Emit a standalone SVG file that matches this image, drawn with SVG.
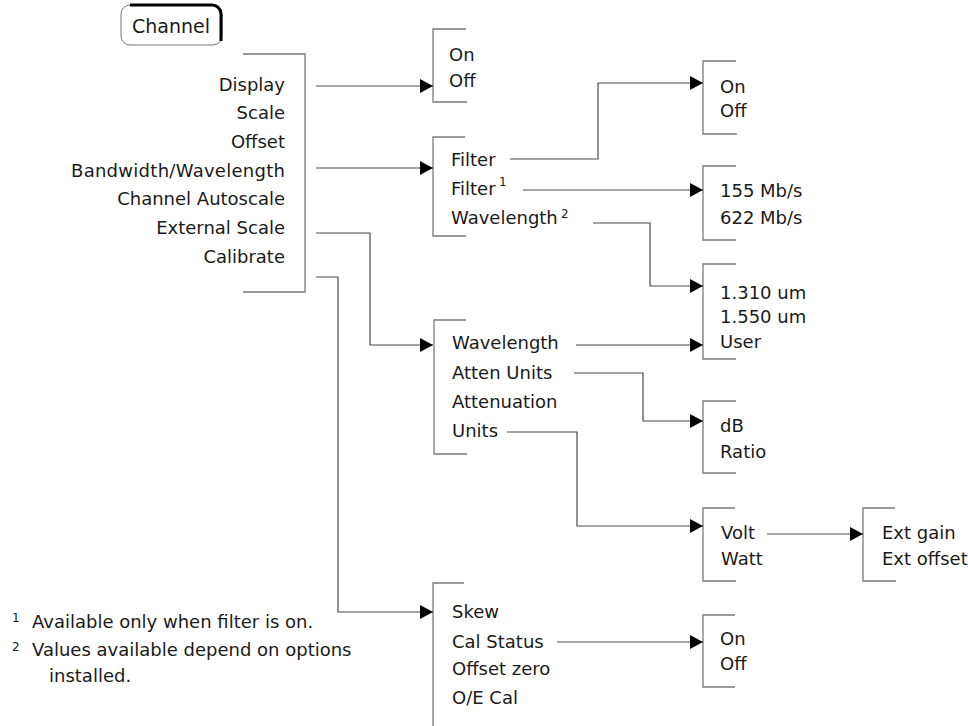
<svg xmlns="http://www.w3.org/2000/svg" width="968" height="726" viewBox="0 0 968 726">
<style>
  text { font-family: "DejaVu Sans", "Liberation Sans", sans-serif; font-size: 18px; fill: #1a1a1a; }
  .end { text-anchor: end; }
  .sup { font-size: 12px; }
  .br { fill: none; stroke: #7a7a7a; stroke-width: 1.3; }
  .cn { fill: none; stroke: #4a4a4a; stroke-width: 1.2; marker-end: url(#arr); }
</style>
<defs>
  <marker id="arr" markerUnits="userSpaceOnUse" markerWidth="15" markerHeight="15" refX="13" refY="7" orient="auto">
    <path d="M0,0 L13,7 L0,14 Z" fill="#000"/>
  </marker>
</defs>
<rect width="968" height="726" fill="#fff"/>

<g id="channel-key">
  <rect x="121" y="5" width="101" height="40" rx="9" fill="#fff" stroke="#777" stroke-width="1"/>
  <path d="M130,5 H212 A9,9 0 0 1 221,14 V41" fill="none" stroke="#000" stroke-width="3"/>
  <text x="171" y="33" style="text-anchor:middle;font-size:19px">Channel</text>
</g>

<g id="main-menu">
  <path class="br" d="M243,54 H305 V292 H243"/>
  <text class="end" x="285" y="91">Display</text>
  <text class="end" x="285" y="119">Scale</text>
  <text class="end" x="285" y="148">Offset</text>
  <text class="end" x="285" y="177" textLength="214">Bandwidth/Wavelength</text>
  <text class="end" x="285" y="205">Channel Autoscale</text>
  <text class="end" x="285" y="234">External Scale</text>
  <text class="end" x="285" y="263">Calibrate</text>
</g>

<g id="display-menu">
  <path class="br" d="M466,29 H433 V102 H467"/>
  <text x="449" y="61">On</text>
  <text x="449" y="87">Off</text>
</g>

<g id="bandwidth-menu">
  <path class="br" d="M465,137 H433 V236 H466"/>
  <text x="451" y="166">Filter</text>
  <text x="451" y="195">Filter</text>
  <text class="sup" x="499" y="186">1</text>
  <text x="451" y="224">Wavelength</text>
  <text class="sup" x="561" y="218">2</text>
</g>

<g id="filter-menu">
  <path class="br" d="M736,61 H703 V134 H737"/>
  <text x="720" y="93">On</text>
  <text x="720" y="117">Off</text>
</g>

<g id="rate-menu">
  <path class="br" d="M736,166 H703 V240 H736"/>
  <text x="720" y="197">155 Mb/s</text>
  <text x="720" y="224">622 Mb/s</text>
</g>

<g id="wavelength-menu">
  <path class="br" d="M736,264 H703 V359 H736"/>
  <text x="720" y="299">1.310 um</text>
  <text x="720" y="323">1.550 um</text>
  <text x="720" y="348">User</text>
</g>

<g id="external-menu">
  <path class="br" d="M466,320 H434 V454 H467"/>
  <text x="452" y="349">Wavelength</text>
  <text x="452" y="379">Atten Units</text>
  <text x="452" y="408">Attenuation</text>
  <text x="452" y="437">Units</text>
</g>

<g id="atten-units-menu">
  <path class="br" d="M736,401 H703 V473 H736"/>
  <text x="720" y="432">dB</text>
  <text x="720" y="458">Ratio</text>
</g>

<g id="units-menu">
  <path class="br" d="M735,508 H703 V581 H736"/>
  <text x="721" y="539">Volt</text>
  <text x="721" y="565">Watt</text>
</g>

<g id="volt-menu">
  <path class="br" d="M895,508 H863 V581 H896"/>
  <text x="882" y="539">Ext gain</text>
  <text x="882" y="565">Ext offset</text>
</g>

<g id="calibrate-menu">
  <path class="br" d="M464,583 H433 V726"/>
  <text x="452" y="618">Skew</text>
  <text x="452" y="648">Cal Status</text>
  <text x="452" y="675">Offset zero</text>
  <text x="452" y="704">O/E Cal</text>
</g>

<g id="cal-status-menu">
  <path class="br" d="M735,615 H703 V687 H735"/>
  <text x="720" y="645">On</text>
  <text x="720" y="670">Off</text>
</g>

<g id="connectors">
  <path class="cn" d="M316,86 H433"/>
  <path class="cn" d="M316,168 H433"/>
  <path class="cn" d="M316,233 H370 V345 H433"/>
  <path class="cn" d="M316,277 H338 V612 H433"/>
  <path class="cn" d="M510,159 H598 V83 H703"/>
  <path class="cn" d="M523,190 H703"/>
  <path class="cn" d="M593,223 H650 V286 H703"/>
  <path class="cn" d="M576,345 H703"/>
  <path class="cn" d="M574,373 H643 V421 H703"/>
  <path class="cn" d="M507,432 H577 V526 H703"/>
  <path class="cn" d="M767,534 H863"/>
  <path class="cn" d="M557,642 H703"/>
</g>

<g id="footnotes">
  <text class="sup" x="12" y="622">1</text>
  <text x="32" y="628">Available only when filter is on.</text>
  <text class="sup" x="12" y="651">2</text>
  <text x="32" y="656">Values available depend on options</text>
  <text x="49" y="682">installed.</text>
</g>
</svg>
